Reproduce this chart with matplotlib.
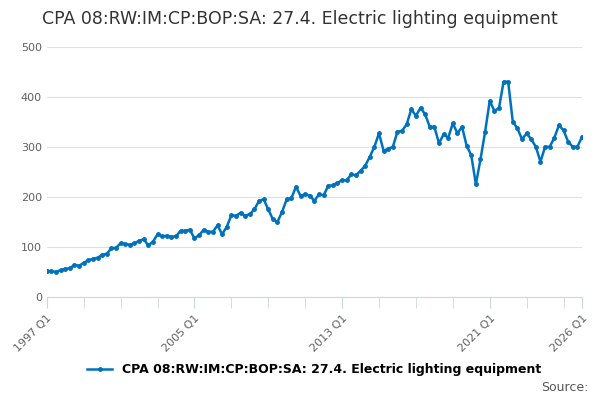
import matplotlib
matplotlib.use('Agg')
import matplotlib.pyplot as plt
import numpy as np

values = [52, 51, 50, 53, 56, 57, 64, 62, 68, 73, 76, 78, 84, 86, 97, 98,
          107, 106, 104, 107, 112, 115, 103, 110, 125, 121, 122, 120,
          121, 132, 132, 134, 117, 123, 134, 130, 130, 143, 125, 140,
          163, 162, 168, 162, 165, 175, 192, 195, 175, 155, 150, 170,
          195, 197, 220, 202, 205, 202, 192, 205, 203, 222, 223, 228,
          233, 233, 245, 243, 252, 262, 280, 300, 327, 292, 296, 300,
          330, 332, 345, 375, 362, 378, 365, 340, 340, 307, 325, 318,
          347, 327, 340, 302, 283, 225, 275, 330, 392, 372, 377, 430,
          430, 350, 337, 315, 327, 315, 300, 270, 300, 300, 318, 343,
          333, 310, 300, 300, 320]
labels = ["1997 Q1", "2005 Q1", "2013 Q1", "2021 Q1", "2026 Q1"]
label_years = [1997, 2005, 2013, 2021, 2026]
series = "CPA 08:RW:IM:CP:BOP:SA: 27.4. Electric lighting equipment"

x = 1997 + np.arange(len(values)) / 4
col = '#0072bc'

fig = plt.figure(figsize=(6, 4), dpi=100)
ax = fig.add_axes([0.078, 0.258, 0.892, 0.625])
ax.plot(x, values, color=col, lw=1.8, marker='o', ms=2.5, label=series)
ax.set_xlim(1997, 2026)
ax.set_ylim(0, 500)
ax.set_yticks(range(0, 501, 100))
ax.grid(axis='y', color='#e0e0e0', lw=0.8)
ax.set_axisbelow(True)
ax.set_xticks(label_years)
ax.set_xticklabels(labels, rotation=45, ha='right', rotation_mode='anchor')
ax.set_xticks(np.arange(1999, 2026, 2), minor=True)
for s in ['top', 'right', 'left']:
    ax.spines[s].set_visible(False)
ax.spines['bottom'].set_color('#ccd6eb')
ax.tick_params(axis='y', length=0, labelsize=8, colors='#606060')
ax.tick_params(axis='x', which='both', length=8, color='#ccd6eb', labelsize=8, labelcolor='#606060')
fig.suptitle(series, x=0.5, y=0.975, fontsize=12.5, color='#333333')
ax.legend(loc='upper center', bbox_to_anchor=(0.5, -0.22), frameon=False,
          prop={'size': 9, 'weight': 'bold'}, handlelength=2)
fig.text(0.98, 0.015, "Source:", ha='right', va='bottom', fontsize=9, color='#555555')
fig.savefig('out.png')
